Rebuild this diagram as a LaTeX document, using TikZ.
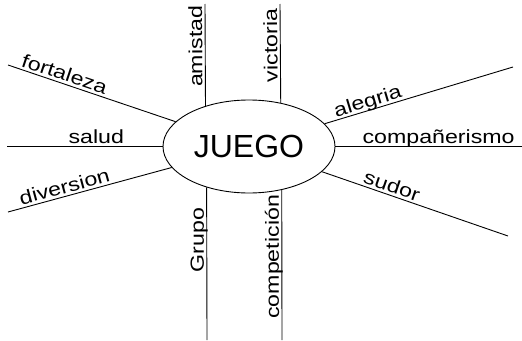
\documentclass[tikz,border=0pt]{standalone}
\usepackage{fontspec}
\setmainfont{Liberation Sans}
\newfontfamily\wordfamily[FakeStretch=1.22]{Liberation Sans}
\usetikzlibrary{shapes.geometric}

\tikzset{
    spoke/.style={line width=0.9pt},
    word/.style={sloped, anchor=south, inner sep=2.5pt, text depth=0pt,
        font=\wordfamily\fontsize{19}{22}\selectfont}
}

\begin{document}
\begin{tikzpicture}[x=1pt, y=-1pt]
            \useasboundingbox (0,0) rectangle (522,340);
            \node[draw, ellipse, line width=0.9pt, minimum width=172pt, minimum height=93pt,
                inner sep=0pt, font=\fontsize{32}{36}\selectfont] (juego) at (249,146.5) {JUEGO};
            % free ends of the spokes
            \coordinate (fortend) at (8,65);
            \coordinate (saludend) at (7,146.5);
            \coordinate (divend) at (8,212);
            \coordinate (alegend) at (513,67);
            \coordinate (compend) at (522,146.5);
            \coordinate (sudorend) at (508,236);
            \coordinate (amisend) at (205,4);
            \coordinate (victend) at (280,4);
            \coordinate (grupoend) at (207,340);
            \coordinate (compeend) at (282,340);
            % left
            \draw[spoke] (fortend) -- (juego) node[word, pos=0.32] {fortaleza};
            \draw[spoke] (saludend) -- (juego) node[word, pos=0.574] {salud};
            \draw[spoke] (divend) -- (juego) node[word, pos=0.36] {diversion};
            % right
            \draw[spoke] (juego) -- (alegend) node[word, pos=0.243] {alegria};
            \draw[spoke] (juego) -- (compend) node[word, pos=0.553] {compañerismo};
            \draw[spoke] (juego) -- (sudorend) node[word, pos=0.36] {sudor};
            % up and down, read from the bottom
            \draw[spoke] (juego.137.76) -- (amisend) node[word, allow upside down, pos=0.585] {amistad};
            \draw[spoke] (juego.54.45) -- (victend) node[word, allow upside down, pos=0.58] {victoria};
            \draw[spoke] (grupoend) -- (juego.224) node[word, allow upside down, pos=0.654] {Grupo};
            \draw[spoke] (compeend) -- (juego.307.54) node[word, allow upside down, pos=0.554] {competición};
        \end{tikzpicture}
\end{document}
